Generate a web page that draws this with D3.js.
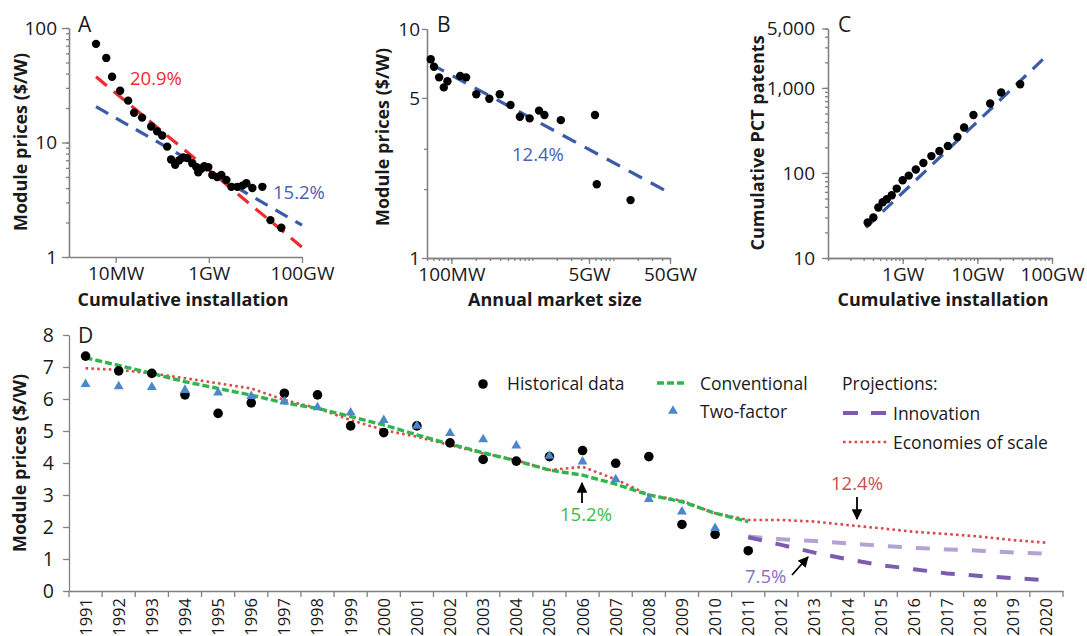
<!DOCTYPE html>
<html>
<head>
<meta charset="utf-8">
<script src="https://cdn.jsdelivr.net/npm/d3@7"></script>
<style>
body {margin:0; background:#fff;}
svg text {font-family:"Open Sans", Lato, sans-serif; fill:#1a1a1a;}
.axis path, .axis line {stroke:#808080; stroke-width:1.3; fill:none;}
.axis text {font-size:19px; font-family:"Open Sans", sans-serif; fill:#1a1a1a;}
.title {font-weight:bold; font-size:18px;}
.letter {font-size:21px;}
.legend {font-size:17.5px;}
.note {font-size:18.5px;}
</style>
</head>
<body>
<svg id="chart" width="1087" height="636"></svg>
<script>
// ---- panel A: cumulative installation (MW) vs module price ($/W)
var aInstall = [3.8, 6.3, 8.4, 12.5, 18.6, 25, 37, 58, 78, 100, 128, 155, 190, 232, 282, 346, 442, 538,
                594, 690, 800, 975, 1190, 1515, 1860, 2380, 3050, 4100, 5250, 6400, 8600, 14100, 21000, 36000];
var aPrice = [72.7, 54.8, 37.5, 28.3, 23.2, 18.2, 16.5, 13.8, 12.5, 11.5, 9.2, 7.1, 6.4, 7.0, 7.4, 7.3, 6.6, 6.1,
              5.5, 5.9, 6.2, 6.1, 5.2, 5.0, 5.2, 4.7, 4.1, 4.1, 4.2, 4.4, 4.0, 4.1, 2.1, 1.8];
var aFitX = [3.8, 100000];
var aFit209 = [37.5, 1.22];
var aFit152 = [20.6, 1.9];
var aXTicks = [10, 1000, 100000], aXLabels = ['10MW', '1GW', '100GW'];
var aYTicks = [1, 10, 100], aYLabels = ['1', '10', '100'];

// ---- panel B: annual market size (MW) vs module price
var bMarket = [55.6, 61, 70.5, 80.6, 89.3, 128.5, 152, 203, 294, 395, 537, 701, 925, 1208, 1409, 2245, 5930, 6240, 16300];
var bPrice = [7.38, 6.84, 6.15, 5.56, 5.91, 6.23, 6.15, 5.19, 4.96, 5.19, 4.66, 4.14, 4.07, 4.40, 4.21, 4.0, 4.21, 2.10, 1.79];
var bFitX = [55.6, 50000];
var bFit124 = [7.03, 1.92];
var bXTicks = [100, 5000, 50000], bXLabels = ['100MW', '5GW', '50GW'];
var bYTicks = [1, 5, 10], bYLabels = ['1', '5', '10'];
var bYMinor = [2, 3];

// ---- panel C: cumulative installation (MW) vs cumulative PCT patents
var cInstall = [340, 405, 472, 540, 612, 714, 833, 1000, 1207, 1500, 1894, 2425, 3105, 4025, 5410, 6650, 8870, 14860, 20860, 37500];
var cPatents = [26.1, 29.9, 39.2, 45.2, 49, 54.7, 65.5, 82, 93, 110, 131, 158, 181, 208, 265, 342, 481, 655, 883, 1107];
var cFitX = [323, 83600];
var cFit = [22.8, 2360];
var cXTicks = [1000, 10000, 100000], cXLabels = ['1GW', '10GW', '100GW'];
var cYTicks = [10, 100, 1000, 5000], cYLabels = ['10', '100', '1,000', '5,000'];

// ---- panel D: yearly module prices and projections
var years = [1991, 1992, 1993, 1994, 1995, 1996, 1997, 1998, 1999, 2000, 2001, 2002, 2003, 2004, 2005,
             2006, 2007, 2008, 2009, 2010, 2011, 2012, 2013, 2014, 2015, 2016, 2017, 2018, 2019, 2020];
var histYears = years.slice(0, 21);
var historical = [7.34, 6.88, 6.80, 6.13, 5.55, 5.88, 6.18, 6.13, 5.16, 4.95, 5.16, 4.63, 4.11, 4.06, 4.20,
                  4.39, 3.99, 4.20, 2.08, 1.77, 1.26];
var twoFactorYears = years.slice(0, 20);
var twoFactor = [6.46, 6.39, 6.37, 6.28, 6.20, 6.09, 5.92, 5.74, 5.57, 5.34, 5.16, 4.93, 4.74, 4.54, 4.22,
                 4.04, 3.49, 2.87, 2.48, 1.96];
var conventional = [7.29, 7.05, 6.80, 6.54, 6.33, 6.12, 5.88, 5.71, 5.45, 5.19, 4.88, 4.59, 4.32, 4.07, 3.78,
                    3.62, 3.34, 3.00, 2.79, 2.43, 2.17];
var economies = [6.96, 6.91, 6.80, 6.65, 6.49, 6.33, 5.97, 5.71, 5.34, 5.03, 4.82, 4.56, 4.30, 4.09, 3.78,
                 3.88, 3.49, 3.00, 2.82, 2.43, 2.22, 2.22, 2.17, 2.06, 1.96, 1.85, 1.78, 1.70, 1.59, 1.51];
var projYears = years.slice(20);
var innovLight = [1.70, 1.62, 1.56, 1.49, 1.41, 1.35, 1.30, 1.26, 1.20, 1.17];
var innovDark = [1.68, 1.44, 1.20, 0.99, 0.81, 0.68, 0.55, 0.47, 0.40, 0.34];
var dYTicks = [0, 1, 2, 3, 4, 5, 6, 7, 8];

var red = '#ee2b2f', blue = '#3b5ba8', green = '#2fb54b', dotRed = '#d9484a',
    purple = '#7b5cae', lilac = '#b4a2d5', triBlue = '#4b87c9';

var svg = d3.select('#chart');

function translation(x, y) {
    return 'translate(' + x + ',' + y + ')';
}

// builds one log-log panel with minor and major ticks
function logPanel(p) {
    var g = svg.append('g');
    var x = d3.scaleLog().domain(p.xDomain).range(p.xRange);
    var y = d3.scaleLog().domain(p.yDomain).range(p.yRange);

    if (p.xMinor) {
        g.append('g').attr('class', 'axis')
            .attr('transform', translation(0, p.yRange[0]))
            .call(d3.axisBottom(x).tickValues(x.ticks()).tickSize(3).tickSizeOuter(0).tickFormat(''));
    }
    g.append('g').attr('class', 'axis')
        .attr('transform', translation(0, p.yRange[0]))
        .call(d3.axisBottom(x).tickValues(p.xTicks).tickSize(6).tickSizeOuter(0).tickPadding(4)
            .tickFormat(function(d, i) { return p.xLabels[i]; }));

    g.append('g').attr('class', 'axis')
        .attr('transform', translation(p.xRange[0], 0))
        .call(d3.axisLeft(y).tickValues(p.yMinor).tickSize(3).tickSizeOuter(0).tickFormat(''));
    g.append('g').attr('class', 'axis')
        .attr('transform', translation(p.xRange[0], 0))
        .call(d3.axisLeft(y).tickValues(p.yTicks).tickSize(p.yTickSize).tickSizeOuter(0).tickPadding(p.yPad)
            .tickFormat(function(d, i) { return p.yLabels[i]; }));
    return {g: g, x: x, y: y};
}

function fitLine(panel, xs, ys, color, dash) {
    panel.g.append('path')
        .datum(d3.zip(xs, ys))
        .attr('fill', 'none')
        .attr('stroke', color)
        .attr('stroke-width', 3.2)
        .attr('stroke-dasharray', dash)
        .attr('d', d3.line().x(function(d) { return panel.x(d[0]); }).y(function(d) { return panel.y(d[1]); }));
}

function dots(panel, xs, ys, r) {
    panel.g.selectAll('circle.pt')
        .data(d3.zip(xs, ys))
        .enter().append('circle')
        .attr('class', 'pt')
        .attr('cx', function(d) { return panel.x(d[0]); })
        .attr('cy', function(d) { return panel.y(d[1]); })
        .attr('r', r)
        .attr('fill', '#000');
}

function text(x, y, s, cls, color, anchor) {
    return svg.append('text')
        .attr('x', x).attr('y', y)
        .attr('class', cls)
        .attr('text-anchor', anchor || 'start')
        .style('fill', color || '#1a1a1a')
        .text(s);
}

function vtext(x, y, s) {
    svg.append('text')
        .attr('class', 'title')
        .attr('text-anchor', 'middle')
        .attr('transform', translation(x, y) + ' rotate(-90)')
        .attr('dy', '0.35em')
        .text(s);
}

// ---------- A
var A = logPanel({
    xDomain: [1, 100000], xRange: [69, 302], xTicks: aXTicks, xLabels: aXLabels, xMinor: false,
    yDomain: [1, 100], yRange: [257, 28], yTicks: aYTicks, yLabels: aYLabels,
    yMinor: d3.scaleLog().domain([1, 100]).ticks(), yTickSize: 7, yPad: 5
});
fitLine(A, aFitX, aFit209, red, '14,9');
fitLine(A, aFitX, aFit152, blue, '14,9');
dots(A, aInstall, aPrice, 4.2);
text(130, 85, '20.9%', 'note', red);
text(273, 199, '15.2%', 'note', '#4861b0');
text(78, 32, 'A', 'letter');
vtext(21, 142, 'Module prices ($/W)');
text(183, 306, 'Cumulative installation', 'title', null, 'middle');

// ---------- B
var B = logPanel({
    xDomain: [50, 50000], xRange: [427, 670], xTicks: bXTicks, xLabels: bXLabels, xMinor: true,
    yDomain: [1, 10], yRange: [258, 29], yTicks: bYTicks, yLabels: bYLabels,
    yMinor: bYMinor, yTickSize: 5, yPad: 2
});
fitLine(B, bFitX, bFit124, blue, '15,10');
dots(B, bMarket, bPrice, 4.2);
text(512, 161, '12.4%', 'note', '#4861b0');
text(437, 32, 'B', 'letter');
vtext(383, 137, 'Module prices ($/W)');
text(555, 306, 'Annual market size', 'title', null, 'middle');

// ---------- C
var C = logPanel({
    xDomain: [100, 100000], xRange: [828, 1052], xTicks: cXTicks, xLabels: cXLabels, xMinor: true,
    yDomain: [10, 5000], yRange: [258, 28.5], yTicks: cYTicks, yLabels: cYLabels,
    yMinor: d3.scaleLog().domain([10, 5000]).ticks(), yTickSize: 6, yPad: 7
});
fitLine(C, cFitX, cFit, blue, '14,9');
dots(C, cInstall, cPatents, 4.2);
text(838, 32, 'C', 'letter');
vtext(758, 143, 'Cumulative PCT patents');
text(943, 306, 'Cumulative installation', 'title', null, 'middle');

// ---------- D
var xD = d3.scaleBand().domain(years).range([69, 1063]);
var yD = d3.scaleLinear().domain([0, 8]).range([591, 335]);
var bw = xD.bandwidth();
var cx = function(yr) { return xD(yr) + bw / 2; };
var dG = svg.append('g');

dG.append('g').attr('class', 'axis')
    .attr('transform', translation(69, 0))
    .call(d3.axisLeft(yD).tickValues(dYTicks).tickSize(6).tickSizeOuter(0).tickPadding(9));
dG.selectAll('.axis text').style('font-size', '19.5px');

var xAx = dG.append('g').attr('class', 'axis')
    .attr('transform', translation(0, 591))
    .call(d3.axisBottom(xD).tickSize(0).tickSizeOuter(0));
xAx.selectAll('text')
    .attr('transform', 'rotate(-90)')
    .attr('x', -7).attr('y', 0).attr('dy', '0.36em')
    .style('text-anchor', 'end')
    .style('font-size', '16.5px');
// boundary ticks between the year categories
xAx.selectAll('line.sep')
    .data(years.map(function(yr) { return xD(yr); }).concat([xD.range()[1]]))
    .enter().append('line')
    .attr('class', 'sep')
    .attr('x1', function(d) { return d; }).attr('x2', function(d) { return d; })
    .attr('y1', 0).attr('y2', 6);

function dLine(xs, ys, color, width, dash, cap) {
    dG.append('path')
        .datum(d3.zip(xs, ys))
        .attr('fill', 'none')
        .attr('stroke', color)
        .attr('stroke-width', width)
        .attr('stroke-dasharray', dash)
        .attr('stroke-linecap', cap || 'butt')
        .attr('d', d3.line().x(function(d) { return cx(d[0]); }).y(function(d) { return yD(d[1]); }));
}

dLine(projYears, innovLight, lilac, 4, '14,14');
dLine(projYears, innovDark, purple, 4, '14,14');
dLine(years, economies, dotRed, 2.6, '2.6,3.2');
dLine(histYears, conventional, green, 3.4, '7,3');

dG.selectAll('circle.hist')
    .data(d3.zip(histYears, historical))
    .enter().append('circle')
    .attr('class', 'hist')
    .attr('cx', function(d) { return cx(d[0]); })
    .attr('cy', function(d) { return yD(d[1]); })
    .attr('r', 4.8)
    .attr('fill', '#000');

var tri = d3.symbol().type(d3.symbolTriangle).size(42);
dG.selectAll('path.tri')
    .data(d3.zip(twoFactorYears, twoFactor))
    .enter().append('path')
    .attr('class', 'tri')
    .attr('d', tri)
    .attr('transform', function(d) { return translation(cx(d[0]), yD(d[1])); })
    .attr('fill', triBlue);

text(78, 343, 'D', 'letter');
vtext(20, 463, 'Module prices ($/W)');

// legend
svg.append('circle').attr('cx', 483).attr('cy', 384).attr('r', 4.8).attr('fill', '#000');
text(507, 390, 'Historical data', 'legend');
svg.append('line').attr('x1', 657).attr('x2', 686).attr('y1', 383).attr('y2', 383)
    .attr('stroke', green).attr('stroke-width', 3.4).attr('stroke-dasharray', '7,3');
text(700, 390, 'Conventional', 'legend');
svg.append('path').attr('d', tri).attr('transform', translation(673, 411)).attr('fill', triBlue);
text(700, 418, 'Two-factor', 'legend');
text(842, 390, 'Projections:', 'legend');
svg.append('line').attr('x1', 843).attr('x2', 886).attr('y1', 413).attr('y2', 413)
    .attr('stroke', purple).attr('stroke-width', 4).attr('stroke-dasharray', '15,13');
text(893, 420, 'Innovation', 'legend');
svg.append('line').attr('x1', 843).attr('x2', 888).attr('y1', 442).attr('y2', 442)
    .attr('stroke', dotRed).attr('stroke-width', 2.6).attr('stroke-dasharray', '2.6,3.2');
text(893, 449, 'Economies of scale', 'legend');

// annotations with arrows
svg.append('defs').append('marker')
    .attr('id', 'head').attr('viewBox', '0 0 10 10')
    .attr('refX', 9).attr('refY', 5)
    .attr('markerWidth', 6).attr('markerHeight', 6)
    .attr('orient', 'auto')
    .append('path').attr('d', 'M0,0L10,5L0,10z').attr('fill', '#000');

function arrow(x1, y1, x2, y2) {
    svg.append('line')
        .attr('x1', x1).attr('y1', y1).attr('x2', x2).attr('y2', y2)
        .attr('stroke', '#000').attr('stroke-width', 1.8)
        .attr('marker-end', 'url(#head)');
}

arrow(582, 503, 582, 483);
text(586, 521, '15.2%', 'note', '#3dba4e', 'middle');
arrow(857, 497, 857, 519);
text(857, 490, '12.4%', 'note', '#c9504f', 'middle');
arrow(792, 575, 808, 557);
text(745, 583, '7.5%', 'note', '#8a6fc0');
</script>
</body>
</html>
